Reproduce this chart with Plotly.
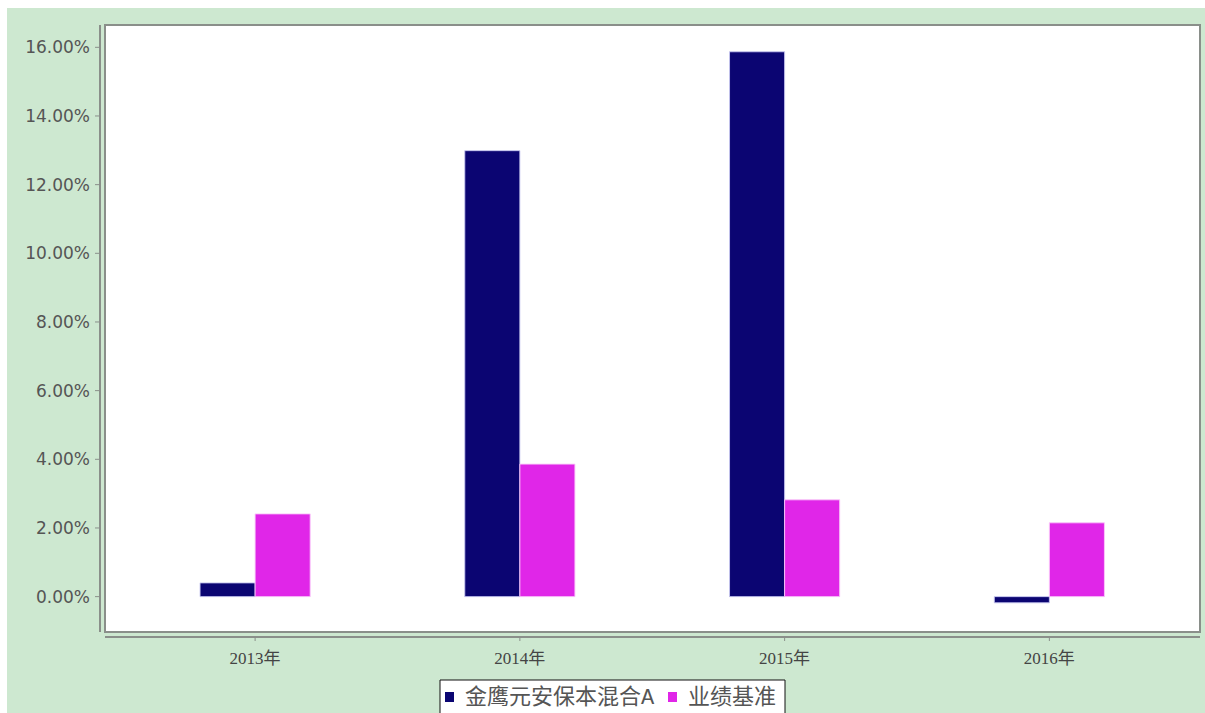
import plotly.graph_objects as go

# Annual returns (%) of the fund vs. its benchmark
years = ["2013年", "2014年", "2015年", "2016年"]
fund_name = "金鹰元安保本混合A"
bench_name = "业绩基准"
fund_returns = [0.40, 12.99, 15.87, -0.18]
bench_returns = [2.41, 3.86, 2.82, 2.15]
y_ticks = [0, 2, 4, 6, 8, 10, 12, 14, 16]
y_tick_labels = [f"{v:.2f}%" for v in y_ticks]

W, H = 1205, 713
L, R, T, B = 105, 5, 25, 81
pw, ph = W - L - R, H - T - B

GREEN = "#cde8d0"
AXIS_GRAY = "#8a8f8a"
FUND_COLOR = "#0b0572"
BENCH_COLOR = "#e026e8"
LEGEND_FONT = dict(family="Liberation Mono, Noto Sans CJK SC", size=22, color="#555555")

fig = go.Figure()
fig.add_trace(go.Bar(
    x=years, y=fund_returns, name=fund_name,
    marker=dict(color=FUND_COLOR, line=dict(color="rgba(200,200,240,0.9)", width=1)),
))
fig.add_trace(go.Bar(
    x=years, y=bench_returns, name=bench_name,
    marker=dict(color=BENCH_COLOR, line=dict(color="rgba(250,200,250,0.9)", width=1)),
))


def px_x(p):
    return (p - L) / pw


def px_y(p):
    return (H - B - p) / ph


shapes = [
    # white strips along the left and top edges of the page
    dict(type="rect", xref="paper", yref="paper", x0=px_x(0), x1=px_x(7), y0=px_y(0), y1=px_y(H),
         fillcolor="white", line=dict(width=0), layer="below"),
    dict(type="rect", xref="paper", yref="paper", x0=px_x(0), x1=px_x(W), y0=px_y(0), y1=px_y(8),
         fillcolor="white", line=dict(width=0), layer="below"),
    # plot frame
    dict(type="rect", xref="paper", yref="paper", x0=0, x1=1, y0=0, y1=1,
         line=dict(color=AXIS_GRAY, width=2), fillcolor="rgba(0,0,0,0)", layer="above"),
    # detached y axis line
    dict(type="line", xref="paper", yref="paper", x0=px_x(100), x1=px_x(100), y0=px_y(632), y1=px_y(25),
         line=dict(color=AXIS_GRAY, width=2)),
    # detached x axis line
    dict(type="line", xref="paper", yref="paper", x0=0, x1=1, y0=px_y(637), y1=px_y(637),
         line=dict(color=AXIS_GRAY, width=2)),
    # legend box (runs off the bottom of the page)
    dict(type="rect", xref="paper", yref="paper", x0=px_x(440), x1=px_x(785), y0=px_y(720), y1=px_y(680),
         fillcolor="white", line=dict(color="#111111", width=1)),
    # legend swatches
    dict(type="rect", xref="paper", yref="paper", x0=px_x(445), x1=px_x(454), y0=px_y(702), y1=px_y(692),
         fillcolor=FUND_COLOR, line=dict(width=0)),
    dict(type="rect", xref="paper", yref="paper", x0=px_x(668), x1=px_x(677), y0=px_y(702), y1=px_y(692),
         fillcolor=BENCH_COLOR, line=dict(width=0)),
]

# y tick marks on the detached axis
for v in y_ticks:
    shapes.append(dict(type="line", xref="paper", yref="y", x0=px_x(95), x1=px_x(100), y0=v, y1=v,
                       line=dict(color=AXIS_GRAY, width=1)))
# x tick marks on the detached axis
for i, _ in enumerate(years):
    shapes.append(dict(type="line", xref="x", yref="paper", x0=i, x1=i, y0=px_y(637), y1=px_y(641),
                       line=dict(color=AXIS_GRAY, width=1)))

annotations = [
    dict(text=fund_name, xref="paper", yref="paper", x=px_x(463), y=px_y(698),
         xanchor="left", yanchor="middle", showarrow=False, font=LEGEND_FONT),
    dict(text=bench_name, xref="paper", yref="paper", x=px_x(686), y=px_y(698),
         xanchor="left", yanchor="middle", showarrow=False, font=LEGEND_FONT),
]

fig.update_layout(
    width=W, height=H,
    margin=dict(l=L, r=R, t=T, b=B, pad=0),
    paper_bgcolor=GREEN,
    plot_bgcolor="white",
    barmode="group",
    bargap=0.584,
    bargroupgap=0,
    shapes=shapes,
    annotations=annotations,
    showlegend=False,
    xaxis=dict(
        range=[-0.567, 3.569], showline=False, showgrid=False, zeroline=False, ticks="",
        tickfont=dict(family="Liberation Serif, Noto Sans CJK SC", size=17, color="#444444"),
        ticklabelstandoff=14,
    ),
    yaxis=dict(
        range=[-1.03, 16.65], showline=False, showgrid=False, zeroline=False, ticks="",
        tickvals=y_ticks, ticktext=y_tick_labels,
        tickfont=dict(family="DejaVu Sans", size=17, color="#555555"),
        ticklabelstandoff=14,
    ),
)

fig.write_html("out.html")
